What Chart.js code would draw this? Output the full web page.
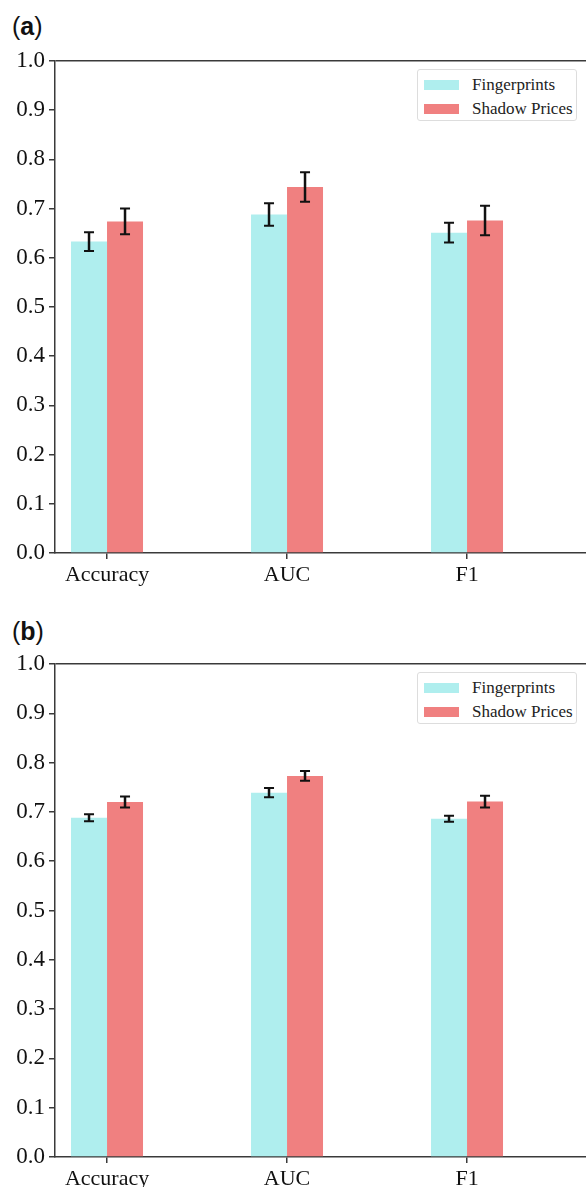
<!DOCTYPE html>
<html>
<head>
<meta charset="utf-8">
<script src="https://cdn.jsdelivr.net/npm/chart.js@4.4.1/dist/chart.umd.min.js"></script>
<style>
  html, body { margin: 0; padding: 0; background: #fff; overflow: hidden; }
  body { width: 586px; height: 1190px; position: relative; }
  .panel-label { position: absolute; left: 12px; font-family: "Liberation Sans", Arial, sans-serif; font-size: 25px; color: #111; }
  .wrap { position: absolute; left: 0; width: 586px; }
  .legend { position: absolute; left: 417px; width: 160px; height: 52px; border: 1px solid #ddd; border-radius: 3px; background: #fff; box-sizing: border-box; }
  .legend .item { position: absolute; left: 0; height: 20px; width: 100%; }
  .legend .sw { position: absolute; left: 6px; top: 5px; width: 35px; height: 10px; }
  .legend .txt { position: absolute; left: 54px; top: 0; line-height: 20px; font-family: "Liberation Serif", "Times New Roman", serif; font-size: 17px; color: #222; white-space: nowrap; }
</style>
</head>
<body>
<div class="panel-label" style="top:12px">(<b>a</b>)</div>
<div class="wrap" style="top:0;height:600px"><canvas id="chartA" width="586" height="600"></canvas></div>
<div class="legend" id="legendA" style="top:69px"></div>

<div class="panel-label" style="top:617px">(<b>b</b>)</div>
<div class="wrap" style="top:603px;height:587px"><canvas id="chartB" width="586" height="587"></canvas></div>
<div class="legend" id="legendB" style="top:672px"></div>

<script>
const categories = ["Accuracy", "AUC", "F1"];
const seriesNames = ["Fingerprints", "Shadow Prices"];
const seriesColors = ["#AFEEEE", "#F08080"];
const yTicks = [0.0, 0.1, 0.2, 0.3, 0.4, 0.5, 0.6, 0.7, 0.8, 0.9, 1.0];

// panel (a)
const fingerprintsA = [0.633, 0.688, 0.651];
const fingerprintsErrA = [0.019, 0.023, 0.020];
const shadowA = [0.674, 0.744, 0.676];
const shadowErrA = [0.026, 0.030, 0.030];

// panel (b)
const fingerprintsB = [0.688, 0.739, 0.686];
const fingerprintsErrB = [0.007, 0.0095, 0.006];
const shadowB = [0.720, 0.773, 0.721];
const shadowErrB = [0.011, 0.010, 0.012];

const AXIS = "#3a3a3a";
const SERIF = "'Liberation Serif', 'Times New Roman', serif";

// error bars drawn on top of the bars
const errorBarPlugin = {
  id: 'errorBars',
  afterDatasetsDraw(chart) {
    const { ctx } = chart;
    const yScale = chart.scales.y;
    ctx.save();
    ctx.strokeStyle = "#111";
    chart.data.datasets.forEach((ds, di) => {
      const meta = chart.getDatasetMeta(di);
      meta.data.forEach((bar, i) => {
        const v = ds.data[i].y;
        const e = ds.errors[i];
        const top = yScale.getPixelForValue(v + e);
        const bot = yScale.getPixelForValue(v - e);
        ctx.lineWidth = 2.5;
        ctx.beginPath();
        ctx.moveTo(bar.x, top);
        ctx.lineTo(bar.x, bot);
        ctx.stroke();
        ctx.lineWidth = 2;
        ctx.beginPath();
        ctx.moveTo(bar.x - 5, top);
        ctx.lineTo(bar.x + 5, top);
        ctx.moveTo(bar.x - 5, bot);
        ctx.lineTo(bar.x + 5, bot);
        ctx.stroke();
      });
    });
    ctx.restore();
  }
};

function buildLegend(id) {
  const box = document.getElementById(id);
  seriesNames.forEach((name, i) => {
    const item = document.createElement("div");
    item.className = "item";
    item.style.top = (5 + i * 24) + "px";
    const sw = document.createElement("div");
    sw.className = "sw";
    sw.style.background = seriesColors[i];
    const txt = document.createElement("div");
    txt.className = "txt";
    txt.textContent = name;
    item.appendChild(sw);
    item.appendChild(txt);
    box.appendChild(item);
  });
}

function makeChart(canvasId, values, errors, padBottom, xHeight) {
  const ctx = document.getElementById(canvasId).getContext('2d');
  return new Chart(ctx, {
    type: 'bar',
    data: {
      datasets: seriesNames.map((name, s) => ({
        label: name,
        data: categories.map((c, i) => ({ x: i, y: values[s][i] })),
        errors: errors[s],
        backgroundColor: seriesColors[s],
        borderWidth: 0,
        categoryPercentage: 0.4,
        barPercentage: 1.0
      }))
    },
    options: {
      responsive: false,
      animation: false,
      layout: { padding: { top: 61, left: 10, right: 0, bottom: padBottom } },
      plugins: { legend: { display: false }, tooltip: { enabled: false } },
      scales: {
        x: {
          type: 'linear',
          offset: false,
          min: -0.289,
          max: 2.661,
          afterBuildTicks: (scale) => { scale.ticks = categories.map((c, i) => ({ value: i })); },
          afterFit: (scale) => { scale.height = xHeight; },
          ticks: {
            callback: (v) => categories[v],
            color: "#111",
            font: { family: SERIF, size: 22 },
            padding: 3,
            maxRotation: 0,
            autoSkip: false
          },
          grid: { offset: false, drawOnChartArea: false, tickColor: AXIS, tickLength: 6, lineWidth: 1.5 },
          border: { color: AXIS, width: 1.5 }
        },
        y: {
          min: 0,
          max: 1,
          afterBuildTicks: (scale) => { scale.ticks = yTicks.map(v => ({ value: v })); },
          afterFit: (scale) => { scale.width = 45; },
          ticks: {
            callback: (v) => v.toFixed(1),
            color: "#111",
            font: { family: SERIF, size: 23 },
            padding: 4
          },
          grid: {
            color: (c) => (c.tick && c.tick.value >= 0.999 ? AXIS : 'rgba(0,0,0,0)'),
            lineWidth: 1.5,
            tickColor: AXIS,
            tickLength: 6
          },
          border: { color: AXIS, width: 1.5 }
        }
      }
    },
    plugins: [errorBarPlugin]
  });
}

makeChart('chartA', [fingerprintsA, shadowA], [fingerprintsErrA, shadowErrA], 7, 40);
makeChart('chartB', [fingerprintsB, shadowB], [fingerprintsErrB, shadowErrB], 3, 30);
buildLegend('legendA');
buildLegend('legendB');
</script>
</body>
</html>
